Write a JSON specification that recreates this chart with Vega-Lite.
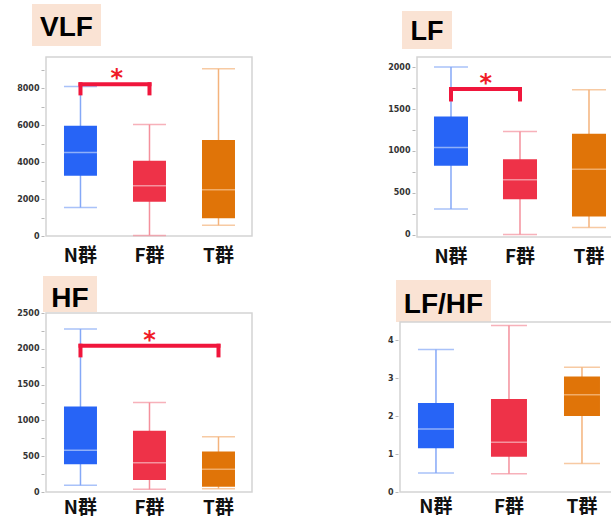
{
  "$schema": "https://vega.github.io/schema/vega-lite/v6.json",
  "padding": {"left": 16, "top": 4, "right": 0, "bottom": 0},
  "config": {"view": {"stroke": null}, "concat": {"spacing": 0}, "axis": {"grid": false}},
  "datasets": {
    "vlf": [
      {"g": "N群", "min": 1540, "q1": 3260, "median": 4530, "q3": 5980, "max": 8100},
      {"g": "F群", "min": 30, "q1": 1850, "median": 2720, "q3": 4080, "max": 6040},
      {"g": "T群", "min": 580, "q1": 960, "median": 2500, "q3": 5200, "max": 9060}
    ],
    "vlf_line": [{"from": "N群", "to": "F群", "y": 8220}],
    "vlf_ends": [{"g": "N群", "y": 8330, "y2": 7620}, {"g": "F群", "y": 8330, "y2": 7620}],
    "vlf_star": [{"g": "N群", "y": 8515, "label": "*"}],
    "lf": [
      {"g": "N群", "min": 310, "q1": 823, "median": 1042, "q3": 1411, "max": 2000},
      {"g": "F群", "min": 5, "q1": 425, "median": 656, "q3": 903, "max": 1233},
      {"g": "T群", "min": 87, "q1": 219, "median": 783, "q3": 1205, "max": 1730}
    ],
    "lf_line": [{"from": "N群", "to": "F群", "y": 1738}],
    "lf_ends": [{"g": "N群", "y": 1762, "y2": 1590}, {"g": "F群", "y": 1762, "y2": 1590}],
    "lf_star": [{"g": "N群", "y": 1795, "label": "*"}],
    "hf": [
      {"g": "N群", "min": 93, "q1": 387, "median": 583, "q3": 1194, "max": 2276},
      {"g": "F群", "min": 37, "q1": 168, "median": 410, "q3": 854, "max": 1250},
      {"g": "T群", "min": 47, "q1": 75, "median": 317, "q3": 564, "max": 770}
    ],
    "hf_line": [{"from": "N群", "to": "T群", "y": 2043}],
    "hf_ends": [{"g": "N群", "y": 2071, "y2": 1880}, {"g": "T群", "y": 2071, "y2": 1880}],
    "hf_star": [{"g": "F群", "y": 2111, "label": "*"}],
    "lfhf": [
      {"g": "N群", "min": 0.5, "q1": 1.15, "median": 1.66, "q3": 2.34, "max": 3.75},
      {"g": "F群", "min": 0.48, "q1": 0.93, "median": 1.31, "q3": 2.45, "max": 4.38},
      {"g": "T群", "min": 0.75, "q1": 2.0, "median": 2.56, "q3": 3.04, "max": 3.28}
    ]
  },
  "vconcat": [
    {
      "hconcat": [
        {
          "vconcat": [
            {
              "hconcat": [
                {"width": 15, "height": 1, "data": {"values": []}, "mark": "point"},
                {"width": 69, "height": 42, "view": {"fill": "#fae3d4", "stroke": null}, "data": {"values": [{"t": "VLF"}]},
                 "mark": {"type": "text", "font": "Liberation Sans", "fontWeight": "bold", "fontSize": 28, "color": "#000000", "dy": 3},
                 "encoding": {"text": {"field": "t", "type": "nominal"}}}
              ],
              "spacing": 0
            },
            {
              "hconcat": [
                {"width": 27, "height": 179, "data": {"name": "vlf"}, "mark": {"type": "point", "opacity": 0},
                 "encoding": {"y": {"field": "max", "type": "quantitative", "scale": {"domain": [0, 9700], "nice": false, "zero": false},
                   "axis": {"values": [0, 1000, 2000, 3000, 4000, 5000, 6000, 7000, 8000, 9000], "labelExpr": "datum.value % 2000 === 0 ? datum.label : ''", "format": "d", "title": null, "domain": false, "tickSize": 3, "tickColor": "#b8b8b8", "labelPadding": 2, "labelFont": "DejaVu Sans", "labelFontWeight": "bold", "labelFontSize": 8, "labelColor": "#333333", "labelOverlap": false, "labelSeparation": -100, "offset": -27}}}},
                {
                  "width": 206, "height": 179,
                  "view": {"stroke": "#d4d4d4", "strokeWidth": 1.5, "fill": null},
                  "resolve": {"scale": {"color": "independent"}},
                  "layer": [
                    {"data": {"name": "vlf"}, "mark": {"type": "rule", "strokeWidth": 1.5},
                     "encoding": {
                       "x": {"field": "g", "type": "nominal", "scale": {"domain": ["N群", "F群", "T群"], "paddingInner": 0.522, "paddingOuter": 0.2536, "align": 0.514},
                             "axis": {"title": null, "labelAngle": 0, "ticks": false, "domain": false, "labelFont": "Noto Sans CJK JP", "labelFontWeight": "bold", "labelFontSize": 19, "labelColor": "#111111", "labelPadding": 10}},
                       "y": {"field": "min", "type": "quantitative", "scale": {"domain": [0, 9700], "nice": false, "zero": false}, "axis": null},
                       "y2": {"field": "max"},
                       "color": {"field": "g", "type": "nominal", "scale": {"domain": ["N群", "F群", "T群"], "range": ["#85a8f7", "#f4909c", "#f4b37c"]}, "legend": null}
                     }},
                    {"data": {"name": "vlf"}, "mark": {"type": "tick", "size": 33, "thickness": 1.5},
                     "encoding": {"x": {"field": "g", "type": "nominal"}, "y": {"field": "min", "type": "quantitative"},
                       "color": {"field": "g", "type": "nominal", "scale": {"domain": ["N群", "F群", "T群"], "range": ["#85a8f7", "#f4909c", "#f4b37c"]}, "legend": null}}},
                    {"data": {"name": "vlf"}, "mark": {"type": "tick", "size": 33, "thickness": 1.5},
                     "encoding": {"x": {"field": "g", "type": "nominal"}, "y": {"field": "max", "type": "quantitative"},
                       "color": {"field": "g", "type": "nominal", "scale": {"domain": ["N群", "F群", "T群"], "range": ["#85a8f7", "#f4909c", "#f4b37c"]}, "legend": null}}},
                    {"data": {"name": "vlf"}, "mark": {"type": "bar"},
                     "encoding": {"x": {"field": "g", "type": "nominal"}, "y": {"field": "q1", "type": "quantitative"}, "y2": {"field": "q3"},
                       "color": {"field": "g", "type": "nominal", "scale": {"domain": ["N群", "F群", "T群"], "range": ["#2764f6", "#ee3248", "#e07408"]}, "legend": null}}},
                    {"data": {"name": "vlf"}, "mark": {"type": "tick", "size": 33, "thickness": 1.5},
                     "encoding": {"x": {"field": "g", "type": "nominal"}, "y": {"field": "median", "type": "quantitative"},
                       "color": {"field": "g", "type": "nominal", "scale": {"domain": ["N群", "F群", "T群"], "range": ["#bcd0fb", "#f8bcc3", "#f8c592"]}, "legend": null}}},
                    {"data": {"name": "vlf_line"}, "mark": {"type": "rule", "strokeWidth": 4, "color": "#f0163c", "strokeCap": "square"},
                     "encoding": {"x": {"field": "from", "type": "nominal"}, "x2": {"field": "to"}, "y": {"field": "y", "type": "quantitative"}}},
                    {"data": {"name": "vlf_ends"}, "mark": {"type": "rule", "strokeWidth": 4, "color": "#f0163c"},
                     "encoding": {"x": {"field": "g", "type": "nominal"}, "y": {"field": "y", "type": "quantitative"}, "y2": {"field": "y2"}}},
                    {"data": {"name": "vlf_star"}, "mark": {"type": "text", "font": "DejaVu Sans", "fontWeight": "bold", "fontSize": 24, "color": "#f01c28"},
                     "encoding": {"x": {"field": "g", "type": "nominal", "bandPosition": 1.6}, "y": {"field": "y", "type": "quantitative"}, "text": {"field": "label"}}}
                  ]
                }
              ],
              "spacing": 0
            }
          ],
          "spacing": 10
        },
        {
          "vconcat": [
            {
              "hconcat": [
                {"width": 14, "height": 1, "data": {"values": []}, "mark": "point"},
                {
                  "vconcat": [
                    {"width": 1, "height": 7, "data": {"values": []}, "mark": "point"},
                    {"width": 50, "height": 38, "view": {"fill": "#fae3d4", "stroke": null}, "data": {"values": [{"t": "LF"}]},
                     "mark": {"type": "text", "font": "Liberation Sans", "fontWeight": "bold", "fontSize": 27, "color": "#000000", "dy": 1.5},
                     "encoding": {"text": {"field": "t", "type": "nominal"}}}
                  ],
                  "spacing": 0
                }
              ],
              "spacing": 0
            },
            {
              "hconcat": [
                {"width": 27, "height": 180, "data": {"name": "lf"}, "mark": {"type": "point", "opacity": 0},
                 "encoding": {"y": {"field": "max", "type": "quantitative", "scale": {"domain": [-25, 2120], "nice": false, "zero": false},
                   "axis": {"values": [0, 250, 500, 750, 1000, 1250, 1500, 1750, 2000], "labelExpr": "datum.value % 500 === 0 ? datum.label : ''", "format": "d", "title": null, "domain": false, "tickSize": 3, "tickColor": "#b8b8b8", "labelPadding": 2, "labelFont": "DejaVu Sans", "labelFontWeight": "bold", "labelFontSize": 8, "labelColor": "#333333", "labelOverlap": false, "labelSeparation": -100, "offset": -27}}}},
                {
                  "width": 197, "height": 180,
                  "view": {"stroke": "#d4d4d4", "strokeWidth": 1.5, "fill": null},
                  "resolve": {"scale": {"color": "independent"}},
                  "layer": [
                    {"data": {"name": "lf"}, "mark": {"type": "rule", "strokeWidth": 1.5},
                     "encoding": {
                       "x": {"field": "g", "type": "nominal", "scale": {"domain": ["N群", "F群", "T群"], "paddingInner": 0.507, "paddingOuter": 0.181, "align": 0.68},
                             "axis": {"title": null, "labelAngle": 0, "ticks": false, "domain": false, "labelFont": "Noto Sans CJK JP", "labelFontWeight": "bold", "labelFontSize": 19, "labelColor": "#111111", "labelPadding": 10}},
                       "y": {"field": "min", "type": "quantitative", "scale": {"domain": [-25, 2120], "nice": false, "zero": false}, "axis": null},
                       "y2": {"field": "max"},
                       "color": {"field": "g", "type": "nominal", "scale": {"domain": ["N群", "F群", "T群"], "range": ["#85a8f7", "#f4909c", "#f4b37c"]}, "legend": null}
                     }},
                    {"data": {"name": "lf"}, "mark": {"type": "tick", "size": 34, "thickness": 1.5},
                     "encoding": {"x": {"field": "g", "type": "nominal"}, "y": {"field": "min", "type": "quantitative"},
                       "color": {"field": "g", "type": "nominal", "scale": {"domain": ["N群", "F群", "T群"], "range": ["#85a8f7", "#f4909c", "#f4b37c"]}, "legend": null}}},
                    {"data": {"name": "lf"}, "mark": {"type": "tick", "size": 34, "thickness": 1.5},
                     "encoding": {"x": {"field": "g", "type": "nominal"}, "y": {"field": "max", "type": "quantitative"},
                       "color": {"field": "g", "type": "nominal", "scale": {"domain": ["N群", "F群", "T群"], "range": ["#85a8f7", "#f4909c", "#f4b37c"]}, "legend": null}}},
                    {"data": {"name": "lf"}, "mark": {"type": "bar"},
                     "encoding": {"x": {"field": "g", "type": "nominal"}, "y": {"field": "q1", "type": "quantitative"}, "y2": {"field": "q3"},
                       "color": {"field": "g", "type": "nominal", "scale": {"domain": ["N群", "F群", "T群"], "range": ["#2764f6", "#ee3248", "#e07408"]}, "legend": null}}},
                    {"data": {"name": "lf"}, "mark": {"type": "tick", "size": 34, "thickness": 1.5},
                     "encoding": {"x": {"field": "g", "type": "nominal"}, "y": {"field": "median", "type": "quantitative"},
                       "color": {"field": "g", "type": "nominal", "scale": {"domain": ["N群", "F群", "T群"], "range": ["#bcd0fb", "#f8bcc3", "#f8c592"]}, "legend": null}}},
                    {"data": {"name": "lf_line"}, "mark": {"type": "rule", "strokeWidth": 4, "color": "#f0163c", "strokeCap": "square"},
                     "encoding": {"x": {"field": "from", "type": "nominal"}, "x2": {"field": "to"}, "y": {"field": "y", "type": "quantitative"}}},
                    {"data": {"name": "lf_ends"}, "mark": {"type": "rule", "strokeWidth": 4, "color": "#f0163c"},
                     "encoding": {"x": {"field": "g", "type": "nominal"}, "y": {"field": "y", "type": "quantitative"}, "y2": {"field": "y2"}}},
                    {"data": {"name": "lf_star"}, "mark": {"type": "text", "font": "DejaVu Sans", "fontWeight": "bold", "fontSize": 24, "color": "#f01c28"},
                     "encoding": {"x": {"field": "g", "type": "nominal", "bandPosition": 1.52}, "y": {"field": "y", "type": "quantitative"}, "text": {"field": "label"}}}
                  ]
                }
              ],
              "spacing": 0
            }
          ],
          "spacing": 7
        }
      ],
      "spacing": 134
    },
    {
      "hconcat": [
        {
          "vconcat": [
            {
              "hconcat": [
                {"width": 26, "height": 1, "data": {"values": []}, "mark": "point"},
                {"width": 54, "height": 36, "view": {"fill": "#fae3d4", "stroke": null}, "data": {"values": [{"t": "HF"}]},
                 "mark": {"type": "text", "font": "Liberation Sans", "fontWeight": "bold", "fontSize": 28, "color": "#000000", "dy": 5},
                 "encoding": {"text": {"field": "t", "type": "nominal"}}}
              ],
              "spacing": 0
            },
            {
              "hconcat": [
                {"width": 27, "height": 179, "data": {"name": "hf"}, "mark": {"type": "point", "opacity": 0},
                 "encoding": {"y": {"field": "max", "type": "quantitative", "scale": {"domain": [0, 2500], "nice": false, "zero": false},
                   "axis": {"values": [0, 250, 500, 750, 1000, 1250, 1500, 1750, 2000, 2250, 2500], "labelExpr": "datum.value % 500 === 0 ? datum.label : ''", "format": "d", "title": null, "domain": false, "tickSize": 3, "tickColor": "#b8b8b8", "labelPadding": 2, "labelFont": "DejaVu Sans", "labelFontWeight": "bold", "labelFontSize": 8, "labelColor": "#333333", "labelOverlap": false, "labelSeparation": -100, "offset": -27}}}},
                {
                  "width": 206, "height": 179,
                  "view": {"stroke": "#d4d4d4", "strokeWidth": 1.5, "fill": null},
                  "resolve": {"scale": {"color": "independent"}},
                  "layer": [
                    {"data": {"name": "hf"}, "mark": {"type": "rule", "strokeWidth": 1.5},
                     "encoding": {
                       "x": {"field": "g", "type": "nominal", "scale": {"domain": ["N群", "F群", "T群"], "paddingInner": 0.522, "paddingOuter": 0.2536, "align": 0.514},
                             "axis": {"title": null, "labelAngle": 0, "ticks": false, "domain": false, "labelFont": "Noto Sans CJK JP", "labelFontWeight": "bold", "labelFontSize": 19, "labelColor": "#111111", "labelPadding": 6}},
                       "y": {"field": "min", "type": "quantitative", "scale": {"domain": [0, 2500], "nice": false, "zero": false}, "axis": null},
                       "y2": {"field": "max"},
                       "color": {"field": "g", "type": "nominal", "scale": {"domain": ["N群", "F群", "T群"], "range": ["#85a8f7", "#f4909c", "#f4b37c"]}, "legend": null}
                     }},
                    {"data": {"name": "hf"}, "mark": {"type": "tick", "size": 33, "thickness": 1.5},
                     "encoding": {"x": {"field": "g", "type": "nominal"}, "y": {"field": "min", "type": "quantitative"},
                       "color": {"field": "g", "type": "nominal", "scale": {"domain": ["N群", "F群", "T群"], "range": ["#85a8f7", "#f4909c", "#f4b37c"]}, "legend": null}}},
                    {"data": {"name": "hf"}, "mark": {"type": "tick", "size": 33, "thickness": 1.5},
                     "encoding": {"x": {"field": "g", "type": "nominal"}, "y": {"field": "max", "type": "quantitative"},
                       "color": {"field": "g", "type": "nominal", "scale": {"domain": ["N群", "F群", "T群"], "range": ["#85a8f7", "#f4909c", "#f4b37c"]}, "legend": null}}},
                    {"data": {"name": "hf"}, "mark": {"type": "bar"},
                     "encoding": {"x": {"field": "g", "type": "nominal"}, "y": {"field": "q1", "type": "quantitative"}, "y2": {"field": "q3"},
                       "color": {"field": "g", "type": "nominal", "scale": {"domain": ["N群", "F群", "T群"], "range": ["#2764f6", "#ee3248", "#e07408"]}, "legend": null}}},
                    {"data": {"name": "hf"}, "mark": {"type": "tick", "size": 33, "thickness": 1.5},
                     "encoding": {"x": {"field": "g", "type": "nominal"}, "y": {"field": "median", "type": "quantitative"},
                       "color": {"field": "g", "type": "nominal", "scale": {"domain": ["N群", "F群", "T群"], "range": ["#bcd0fb", "#f8bcc3", "#f8c592"]}, "legend": null}}},
                    {"data": {"name": "hf_line"}, "mark": {"type": "rule", "strokeWidth": 4, "color": "#f0163c", "strokeCap": "square"},
                     "encoding": {"x": {"field": "from", "type": "nominal"}, "x2": {"field": "to"}, "y": {"field": "y", "type": "quantitative"}}},
                    {"data": {"name": "hf_ends"}, "mark": {"type": "rule", "strokeWidth": 4, "color": "#f0163c"},
                     "encoding": {"x": {"field": "g", "type": "nominal"}, "y": {"field": "y", "type": "quantitative"}, "y2": {"field": "y2"}}},
                    {"data": {"name": "hf_star"}, "mark": {"type": "text", "font": "DejaVu Sans", "fontWeight": "bold", "fontSize": 24, "color": "#f01c28"},
                     "encoding": {"x": {"field": "g", "type": "nominal"}, "y": {"field": "y", "type": "quantitative"}, "text": {"field": "label"}}}
                  ]
                }
              ],
              "spacing": 0
            }
          ],
          "spacing": -4
        },
        {
          "vconcat": [
            {
              "hconcat": [
                {"width": 9, "height": 1, "data": {"values": []}, "mark": "point"},
                {
                  "vconcat": [
                    {"width": 1, "height": 4, "data": {"values": []}, "mark": "point"},
                    {"width": 95, "height": 42, "view": {"fill": "#fae3d4", "stroke": null}, "data": {"values": [{"t": "LF/HF"}]},
                     "mark": {"type": "text", "font": "Liberation Sans", "fontWeight": "bold", "fontSize": 28, "color": "#000000", "dy": 4},
                     "encoding": {"text": {"field": "t", "type": "nominal"}}}
                  ],
                  "spacing": 0
                }
              ],
              "spacing": 0
            },
            {
              "hconcat": [
                {"width": 11, "height": 170, "data": {"name": "lfhf"}, "mark": {"type": "point", "opacity": 0},
                 "encoding": {"y": {"field": "max", "type": "quantitative", "scale": {"domain": [0, 4.474], "nice": false, "zero": false},
                   "axis": {"values": [0, 0.5, 1, 1.5, 2, 2.5, 3, 3.5, 4], "labelExpr": "datum.value % 1 === 0 ? datum.label : ''", "format": "d", "title": null, "domain": false, "tickSize": 3, "tickColor": "#b8b8b8", "labelPadding": 2, "labelFont": "DejaVu Sans", "labelFontWeight": "bold", "labelFontSize": 8, "labelColor": "#333333", "labelOverlap": false, "labelSeparation": -100, "offset": -11}}}},
                {
                  "width": 213, "height": 170,
                  "view": {"stroke": "#d4d4d4", "strokeWidth": 1.5, "fill": null},
                  "resolve": {"scale": {"color": "independent"}},
                  "layer": [
                    {"data": {"name": "lfhf"}, "mark": {"type": "rule", "strokeWidth": 1.5},
                     "encoding": {
                       "x": {"field": "g", "type": "nominal", "scale": {"domain": ["N群", "F群", "T群"], "paddingInner": 0.507, "paddingOuter": 0.2123, "align": 0.58},
                             "axis": {"title": null, "labelAngle": 0, "ticks": false, "domain": false, "labelFont": "Noto Sans CJK JP", "labelFontWeight": "bold", "labelFontSize": 19, "labelColor": "#111111", "labelPadding": 5}},
                       "y": {"field": "min", "type": "quantitative", "scale": {"domain": [0, 4.474], "nice": false, "zero": false}, "axis": null},
                       "y2": {"field": "max"},
                       "color": {"field": "g", "type": "nominal", "scale": {"domain": ["N群", "F群", "T群"], "range": ["#85a8f7", "#f4909c", "#f4b37c"]}, "legend": null}
                     }},
                    {"data": {"name": "lfhf"}, "mark": {"type": "tick", "size": 36, "thickness": 1.5},
                     "encoding": {"x": {"field": "g", "type": "nominal"}, "y": {"field": "min", "type": "quantitative"},
                       "color": {"field": "g", "type": "nominal", "scale": {"domain": ["N群", "F群", "T群"], "range": ["#85a8f7", "#f4909c", "#f4b37c"]}, "legend": null}}},
                    {"data": {"name": "lfhf"}, "mark": {"type": "tick", "size": 36, "thickness": 1.5},
                     "encoding": {"x": {"field": "g", "type": "nominal"}, "y": {"field": "max", "type": "quantitative"},
                       "color": {"field": "g", "type": "nominal", "scale": {"domain": ["N群", "F群", "T群"], "range": ["#85a8f7", "#f4909c", "#f4b37c"]}, "legend": null}}},
                    {"data": {"name": "lfhf"}, "mark": {"type": "bar"},
                     "encoding": {"x": {"field": "g", "type": "nominal"}, "y": {"field": "q1", "type": "quantitative"}, "y2": {"field": "q3"},
                       "color": {"field": "g", "type": "nominal", "scale": {"domain": ["N群", "F群", "T群"], "range": ["#2764f6", "#ee3248", "#e07408"]}, "legend": null}}},
                    {"data": {"name": "lfhf"}, "mark": {"type": "tick", "size": 36, "thickness": 1.5},
                     "encoding": {"x": {"field": "g", "type": "nominal"}, "y": {"field": "median", "type": "quantitative"},
                       "color": {"field": "g", "type": "nominal", "scale": {"domain": ["N群", "F群", "T群"], "range": ["#bcd0fb", "#f8bcc3", "#f8c592"]}, "legend": null}}}
                  ]
                }
              ],
              "spacing": 0
            }
          ],
          "spacing": -1
        }
      ],
      "spacing": 134
    }
  ],
  "spacing": 9
}
